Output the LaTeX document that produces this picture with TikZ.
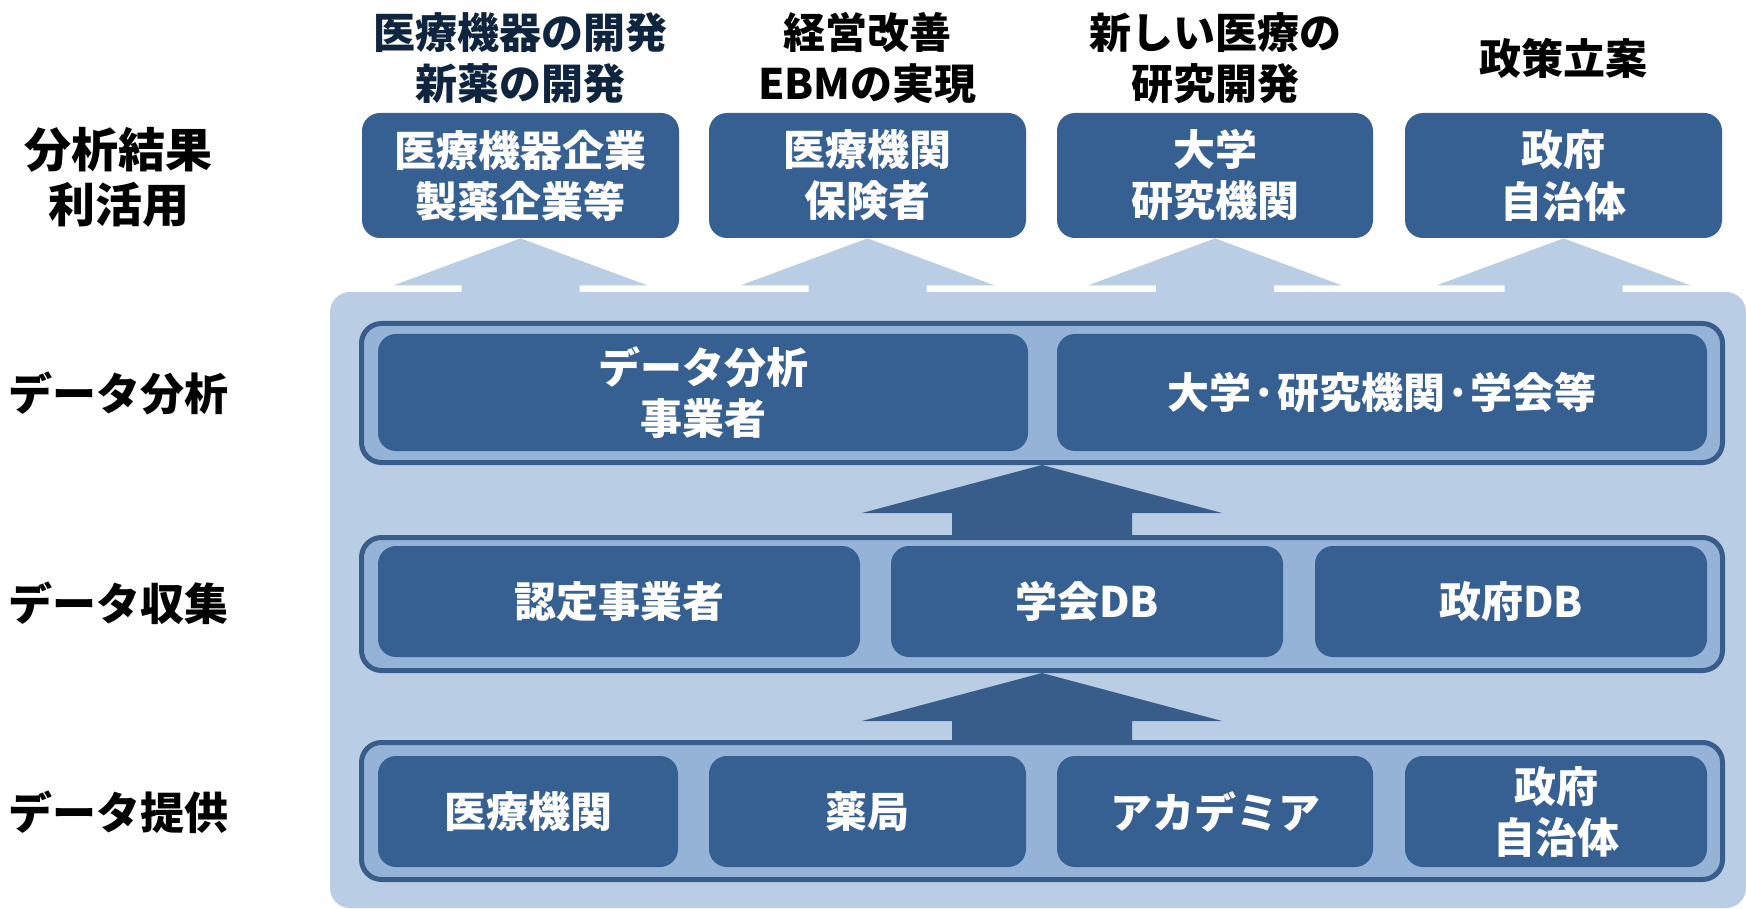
\documentclass[tikz,border=0pt]{standalone}
\usepackage{fontspec}
\setmainfont{Noto Sans CJK JP}
\usetikzlibrary{calc}
\pgfdeclarelayer{background}
\pgfsetlayers{background,main}
\definecolor{boxblue}{HTML}{366092}
\definecolor{arrowblue}{HTML}{385D8A}
\definecolor{panelblue}{HTML}{B9CDE5}
\definecolor{framefill}{HTML}{95B3D7}
\definecolor{navytext}{HTML}{0F243E}
\begin{document}
\begin{tikzpicture}[x=0.5pt,y=-0.5pt,
  box/.style={rectangle, rounded corners=9pt, fill=boxblue, text=white,
    font=\bfseries\fontsize{21pt}{25.5pt}\selectfont, align=center, inner sep=0pt},
  rowframe/.style={rectangle, rounded corners=10pt, fill=framefill, draw=arrowblue,
    line width=2.5pt, minimum width=680.5pt, inner sep=0pt},
  toplabel/.style={font=\bfseries\fontsize{21pt}{25.5pt}\selectfont, align=center, inner sep=0pt},
  sidelabel/.style={font=\bfseries\fontsize{22pt}{27.5pt}\selectfont, align=center, inner sep=0pt},
  lightarrow/.style={fill=panelblue},
  darkarrow/.style={fill=arrowblue}]
\begin{pgfonlayer}{background}
\fill[white] (0,0) rectangle (1746,909);
\end{pgfonlayer}
\useasboundingbox (0,0) rectangle (1746,909);

% background panel
\node[rectangle, rounded corners=10pt, fill=panelblue, minimum width=708pt, minimum height=308pt, inner sep=0pt] (panel) at (1038,600) {};

% top boxes
\node[box, minimum width=158.5pt, minimum height=62.5pt] (t1) at (520.5,175.5) {医療機器企業\\製薬企業等};
\node[box, minimum width=158.5pt, minimum height=62.5pt] (t2) at (867.5,175.5) {医療機関\\保険者};
\node[box, minimum width=158pt, minimum height=62.5pt] (t3) at (1215,175.5) {大学\\研究機関};
\node[box, minimum width=158.5pt, minimum height=62.5pt] (t4) at (1563.5,175.5) {政府\\自治体};

% light arrows from panel up to top boxes
\begin{pgfonlayer}{background}
\foreach \t in {t1,t2,t3,t4}{
  \fill[lightarrow] (\t.south) -- ($(\t.south)+(127,47)$) -- ($(\t.south)+(59,47)$)
    -- ($(\t.south |- panel.north)+(59,2)$) -- ($(\t.south |- panel.north)+(-59,2)$)
    -- ($(\t.south)+(-59,47)$) -- ($(\t.south)+(-127,47)$) -- cycle;
}
\end{pgfonlayer}

% top labels
\node[toplabel, text=navytext] (l1) at (520.5,58.5) {医療機器の開発\\新薬の開発};
\node[toplabel] (l2) at (867.5,58.5) {経営改善\\EBMの実現};
\node[toplabel] (l3) at (1215,58.5) {新しい医療の\\研究開発};
\node[toplabel] (l4) at (1563.5,58) {政策立案};

% row frames
\node[rowframe, minimum height=69.5pt] (f1) at (1042,393) {};
\node[rowframe, minimum height=66.5pt] (f2) at (1042,604) {};
\node[rowframe, minimum height=68.5pt] (f3) at (1042,811) {};

% dark arrows between rows
\fill[darkarrow] (f1.south) -- ($(f1.south)+(180,48)$) -- ($(f1.south)+(90,48)$)
  -- ($(f2.north)+(90,2)$) -- ($(f2.north)+(-90,2)$)
  -- ($(f1.south)+(-90,48)$) -- ($(f1.south)+(-180,48)$) -- cycle;
\fill[darkarrow] (f2.south) -- ($(f2.south)+(180,48)$) -- ($(f2.south)+(90,48)$)
  -- ($(f3.north)+(90,2)$) -- ($(f3.north)+(-90,2)$)
  -- ($(f2.south)+(-90,48)$) -- ($(f2.south)+(-180,48)$) -- cycle;

% row 1: analysis
\node[box, minimum width=325pt, minimum height=58.5pt] (a1) at (703,392.5) {データ分析\\事業者};
\node[box, minimum width=325pt, minimum height=58.5pt] (a2) at (1382,392.5) {大学·研究機関·学会等};

% row 2: collection
\node[box, minimum width=241pt, minimum height=55.5pt] (c1) at (619,601.5) {認定事業者};
\node[box, minimum width=196pt, minimum height=55.5pt] (c2) at (1087,601.5) {学会DB};
\node[box, minimum width=196pt, minimum height=55.5pt] (c3) at (1511,601.5) {政府DB};

% row 3: provision
\node[box, minimum width=150pt, minimum height=55.5pt] (p1) at (528,811.5) {医療機関};
\node[box, minimum width=158.5pt, minimum height=55.5pt] (p2) at (867.5,811.5) {薬局};
\node[box, minimum width=158pt, minimum height=55.5pt] (p3) at (1215,811.5) {アカデミア};
\node[box, minimum width=151pt, minimum height=55.5pt] (p4) at (1556,811.5) {政府\\自治体};

% side labels
\node[sidelabel, font=\bfseries\fontsize{23.5pt}{27.5pt}\selectfont] (s1) at (119,177) {分析結果\\利活用};
\node[sidelabel] (s2) at (119,393) {データ分析};
\node[sidelabel] (s3) at (119,603) {データ収集};
\node[sidelabel] (s4) at (119,812) {データ提供};
\end{tikzpicture}
\end{document}
